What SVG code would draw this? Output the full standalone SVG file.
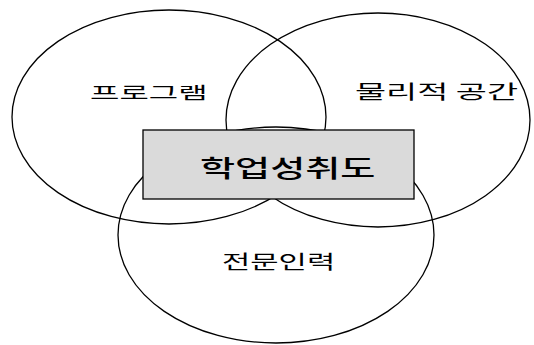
<svg xmlns="http://www.w3.org/2000/svg" width="534" height="345" viewBox="0 0 534 345">
<style>
.c{fill:none;stroke:#000;stroke-width:1.3}
.t{font-family:"Noto Sans CJK KR","Noto Sans",sans-serif;fill:#000}
.b{fill:#dadada;stroke:#000;stroke-width:1.3}
</style>
<rect width="534" height="345" fill="#fff"/>
<g id="program">
<ellipse class="c" cx="169" cy="117" rx="157" ry="107"/>
<text class="t" transform="translate(90,99) scale(1.88,1)" font-size="17">프로그램</text>
</g>
<g id="space">
<ellipse class="c" cx="378" cy="120" rx="152" ry="107"/>
<text class="t" transform="translate(355,99) scale(1.78,1)" font-size="19">물리적 공간</text>
</g>
<g id="staff">
<ellipse class="c" cx="276" cy="235" rx="158" ry="108"/>
<text class="t" transform="translate(222,269) scale(1.62,1)" font-size="19">전문인력</text>
</g>
<g id="achievement">
<rect class="b" x="143" y="130" width="271" height="69"/>
<text class="t" transform="translate(200,177) scale(1.59,1)" font-size="24" font-weight="500">학업성취도</text>
</g>
<g id="connectors"></g>
</svg>
